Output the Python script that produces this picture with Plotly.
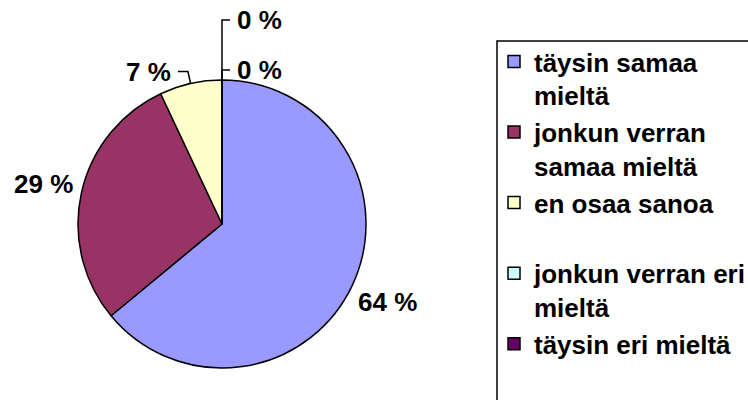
import math
import plotly.graph_objects as go

labels = ["täysin samaa<br>mieltä", "jonkun verran<br>samaa mieltä", "en osaa sanoa<br> ",
          "jonkun verran eri<br>mieltä", "täysin eri mieltä"]
values = [64, 29, 7, 0, 0]
colors = ["#9999FF", "#993366", "#FFFFCC", "#CCFFFF", "#660066"]

W, H = 748, 400
CX, CY, R = 222, 224, 144  # pie geometry in px
FONT = "Liberation Sans, Arial, sans-serif"
FS = 26

def px(x):
    return x / W

def py(y):
    return 1 - y / H

fig = go.Figure(go.Pie(
    labels=labels, values=values, sort=False, direction="clockwise", rotation=0,
    marker=dict(colors=colors, line=dict(color="black", width=1.5)),
    textinfo="none", hoverinfo="label+percent",
    domain=dict(x=[px(CX - R), px(CX + R)], y=[py(CY + R), py(CY - R)]),
))

total = sum(values)
cum = 0
annotations = []
shapes = []
zero_idx = 0
for v in values:
    frac = v / total
    mid = (cum + frac / 2) * 2 * math.pi
    cum += frac
    sx, sy = math.sin(mid), -math.cos(mid)
    ex, ey = CX + R * sx, CY + R * sy
    txt = f"{round(frac * 100)} %"
    if frac >= 0.2:
        lx, ly = CX + 1.27 * R * sx, CY + 1.27 * R * sy
        annotations.append(dict(x=px(lx), y=py(ly), xref="paper", yref="paper", text=f"<b>{txt}</b>",
                                showarrow=False, xanchor="center", yanchor="middle"))
    elif frac > 0:
        bx, by = ex + 0.085 * R * sx, ey + 0.085 * R * sy
        hx = bx - 10
        shapes.append(dict(type="path", xref="paper", yref="paper",
                           path=f"M{px(ex)},{py(ey)} L{px(bx)},{py(by)} L{px(hx)},{py(by)}",
                           line=dict(color="black", width=1.5)))
        annotations.append(dict(x=px(hx - 5), y=py(by), xref="paper", yref="paper", text=f"<b>{txt}</b>",
                                showarrow=False, xanchor="right", yanchor="middle"))
    else:
        top = ey - 10 - 50 * zero_idx
        shapes.append(dict(type="path", xref="paper", yref="paper",
                           path=f"M{px(ex)},{py(ey)} L{px(ex)},{py(top)} L{px(ex + 8)},{py(top)}",
                           line=dict(color="black", width=1.5)))
        annotations.append(dict(x=px(ex + 13), y=py(top), xref="paper", yref="paper", text=f"<b>{txt}</b>",
                                showarrow=False, xanchor="left", yanchor="middle"))
        zero_idx += 1

# legend frame (extends past the right and bottom edges like the original)
shapes.append(dict(type="rect", xref="paper", yref="paper",
                   x0=px(497), x1=px(W + 20), y0=py(41), y1=py(H + 20),
                   line=dict(color="black", width=1.5), fillcolor="rgba(0,0,0,0)", layer="below"))

fig.update_layout(
    width=W, height=H, margin=dict(l=0, r=0, t=0, b=0, autoexpand=False),
    paper_bgcolor="white", plot_bgcolor="white",
    font=dict(family=FONT, size=FS, color="black"),
    annotations=annotations, shapes=shapes,
    showlegend=True,
    legend=dict(x=px(494), y=py(38), xanchor="left", yanchor="top", valign="top",
                bgcolor="rgba(0,0,0,0)", borderwidth=0,
                font=dict(family=FONT, size=FS, color="black", weight="bold"),
                traceorder="normal"),
)

fig.write_html("out.html", config={"displayModeBar": False},
               post_script="document.body.style.margin='0';document.body.style.overflow='hidden';")
